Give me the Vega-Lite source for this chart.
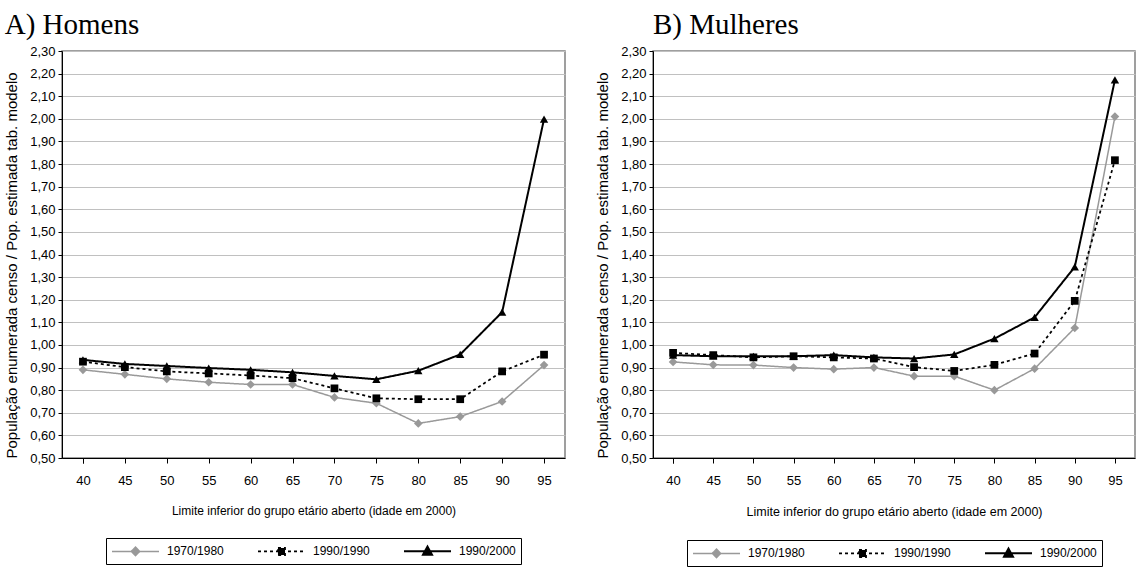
{
  "$schema": "https://vega.github.io/schema/vega-lite/v6.json",
  "background": "white",
  "padding": {"left": 3, "top": 10, "right": 0, "bottom": 0},
  "data": {
    "values": [
      {"panel": "H", "age": 40, "series": "1970/1980", "value": 0.89},
      {"panel": "H", "age": 45, "series": "1970/1980", "value": 0.87},
      {"panel": "H", "age": 50, "series": "1970/1980", "value": 0.85},
      {"panel": "H", "age": 55, "series": "1970/1980", "value": 0.835},
      {"panel": "H", "age": 60, "series": "1970/1980", "value": 0.825},
      {"panel": "H", "age": 65, "series": "1970/1980", "value": 0.825},
      {"panel": "H", "age": 70, "series": "1970/1980", "value": 0.768},
      {"panel": "H", "age": 75, "series": "1970/1980", "value": 0.742},
      {"panel": "H", "age": 80, "series": "1970/1980", "value": 0.653},
      {"panel": "H", "age": 85, "series": "1970/1980", "value": 0.683},
      {"panel": "H", "age": 90, "series": "1970/1980", "value": 0.75},
      {"panel": "H", "age": 95, "series": "1970/1980", "value": 0.911},
      {"panel": "H", "age": 40, "series": "1990/1990", "value": 0.926},
      {"panel": "H", "age": 45, "series": "1990/1990", "value": 0.902},
      {"panel": "H", "age": 50, "series": "1990/1990", "value": 0.883},
      {"panel": "H", "age": 55, "series": "1990/1990", "value": 0.874},
      {"panel": "H", "age": 60, "series": "1990/1990", "value": 0.865},
      {"panel": "H", "age": 65, "series": "1990/1990", "value": 0.853},
      {"panel": "H", "age": 70, "series": "1990/1990", "value": 0.808},
      {"panel": "H", "age": 75, "series": "1990/1990", "value": 0.764},
      {"panel": "H", "age": 80, "series": "1990/1990", "value": 0.76},
      {"panel": "H", "age": 85, "series": "1990/1990", "value": 0.76},
      {"panel": "H", "age": 90, "series": "1990/1990", "value": 0.883},
      {"panel": "H", "age": 95, "series": "1990/1990", "value": 0.957},
      {"panel": "H", "age": 40, "series": "1990/2000", "value": 0.934},
      {"panel": "H", "age": 45, "series": "1990/2000", "value": 0.916},
      {"panel": "H", "age": 50, "series": "1990/2000", "value": 0.907},
      {"panel": "H", "age": 55, "series": "1990/2000", "value": 0.898},
      {"panel": "H", "age": 60, "series": "1990/2000", "value": 0.89},
      {"panel": "H", "age": 65, "series": "1990/2000", "value": 0.879},
      {"panel": "H", "age": 70, "series": "1990/2000", "value": 0.863},
      {"panel": "H", "age": 75, "series": "1990/2000", "value": 0.848},
      {"panel": "H", "age": 80, "series": "1990/2000", "value": 0.886},
      {"panel": "H", "age": 85, "series": "1990/2000", "value": 0.958},
      {"panel": "H", "age": 90, "series": "1990/2000", "value": 1.145},
      {"panel": "H", "age": 95, "series": "1990/2000", "value": 1.999},
      {"panel": "M", "age": 40, "series": "1970/1980", "value": 0.925},
      {"panel": "M", "age": 45, "series": "1970/1980", "value": 0.912},
      {"panel": "M", "age": 50, "series": "1970/1980", "value": 0.911},
      {"panel": "M", "age": 55, "series": "1970/1980", "value": 0.9},
      {"panel": "M", "age": 60, "series": "1970/1980", "value": 0.893},
      {"panel": "M", "age": 65, "series": "1970/1980", "value": 0.9},
      {"panel": "M", "age": 70, "series": "1970/1980", "value": 0.862},
      {"panel": "M", "age": 75, "series": "1970/1980", "value": 0.862},
      {"panel": "M", "age": 80, "series": "1970/1980", "value": 0.8},
      {"panel": "M", "age": 85, "series": "1970/1980", "value": 0.895},
      {"panel": "M", "age": 90, "series": "1970/1980", "value": 1.075},
      {"panel": "M", "age": 95, "series": "1970/1980", "value": 2.01},
      {"panel": "M", "age": 40, "series": "1990/1990", "value": 0.965},
      {"panel": "M", "age": 45, "series": "1990/1990", "value": 0.955},
      {"panel": "M", "age": 50, "series": "1990/1990", "value": 0.945},
      {"panel": "M", "age": 55, "series": "1990/1990", "value": 0.95},
      {"panel": "M", "age": 60, "series": "1990/1990", "value": 0.945},
      {"panel": "M", "age": 65, "series": "1990/1990", "value": 0.94},
      {"panel": "M", "age": 70, "series": "1990/1990", "value": 0.902},
      {"panel": "M", "age": 75, "series": "1990/1990", "value": 0.885},
      {"panel": "M", "age": 80, "series": "1990/1990", "value": 0.912},
      {"panel": "M", "age": 85, "series": "1990/1990", "value": 0.962},
      {"panel": "M", "age": 90, "series": "1990/1990", "value": 1.195},
      {"panel": "M", "age": 95, "series": "1990/1990", "value": 1.817},
      {"panel": "M", "age": 40, "series": "1990/2000", "value": 0.955},
      {"panel": "M", "age": 45, "series": "1990/2000", "value": 0.95},
      {"panel": "M", "age": 50, "series": "1990/2000", "value": 0.95},
      {"panel": "M", "age": 55, "series": "1990/2000", "value": 0.95},
      {"panel": "M", "age": 60, "series": "1990/2000", "value": 0.955},
      {"panel": "M", "age": 65, "series": "1990/2000", "value": 0.945},
      {"panel": "M", "age": 70, "series": "1990/2000", "value": 0.94},
      {"panel": "M", "age": 75, "series": "1990/2000", "value": 0.958},
      {"panel": "M", "age": 80, "series": "1990/2000", "value": 1.028},
      {"panel": "M", "age": 85, "series": "1990/2000", "value": 1.122},
      {"panel": "M", "age": 90, "series": "1990/2000", "value": 1.345},
      {"panel": "M", "age": 95, "series": "1990/2000", "value": 2.172}
    ]
  },
  "spacing": 28,
  "hconcat": [
    {
      "title": {"text": "A) Homens", "anchor": "start", "frame": "bounds"},
      "width": 503,
      "height": 407,
      "transform": [{"filter": "datum.panel === 'H'"}],
      "encoding": {
        "x": {"field": "age", "type": "ordinal", "scale": {"paddingInner": 0, "paddingOuter": 0}, "axis": {"title": "Limite inferior do grupo etário aberto (idade em 2000)"}},
        "y": {"field": "value", "type": "quantitative", "scale": {"domain": [0.5, 2.3], "nice": false, "zero": false},
              "axis": {"values": [0.5,0.6,0.7,0.8,0.9,1.0,1.1,1.2,1.3,1.4,1.5,1.6,1.7,1.8,1.9,2.0,2.1,2.2,2.3], "labelExpr": "replace(format(datum.value, '.2f'), '.', ',')", "title": "População enumerada censo / Pop. estimada tab. modelo"}}
      },
      "layer": [
        {
          "mark": {"type": "line"},
          "encoding": {
            "color": {"field": "series", "type": "nominal", "scale": {"domain": ["1970/1980", "1990/1990", "1990/2000"], "range": ["#999999", "#000000", "#000000"]},
                      "legend": {"encode": {
                        "symbols": {"update": {
                          "y": {"value": 8},
                          "shape": {"signal": "datum.value === '1970/1980' ? 'M-1,0L1,0M0,-0.18L0.18,0L0,0.18L-0.18,0Z' : datum.value === '1990/1990' ? 'M-1,0L1,0M-0.15,-0.15L0.15,-0.15L0.15,0.15L-0.15,0.15Z' : 'M-1,0L1,0M0,-0.2L0.19,0.14L-0.19,0.14Z'"},
                          "fill": {"signal": "datum.value === '1970/1980' ? '#999999' : '#000000'"},
                          "fillOpacity": {"value": 1},
                          "strokeWidth": {"signal": "datum.value === '1990/1990' ? 2 : datum.value === '1970/1980' ? 1.5 : 1"}}},
                        "labels": {"update": {"y": {"value": 8}}}}}},
            "strokeDash": {"field": "series", "type": "nominal", "scale": {"domain": ["1970/1980", "1990/1990", "1990/2000"], "range": [[1, 0], [3, 3], [1, 0]]}},
            "strokeWidth": {"field": "series", "type": "nominal", "scale": {"domain": ["1970/1980", "1990/1990", "1990/2000"], "range": [1.5, 2, 1]}, "legend": null}
          }
        },
        {"transform": [{"filter": "datum.series === '1970/1980'"}], "mark": {"type": "point", "shape": "diamond", "filled": true, "opacity": 1, "size": 75, "color": "#999999"}},
        {"transform": [{"filter": "datum.series === '1990/1990'"}], "mark": {"type": "point", "shape": "square", "filled": true, "opacity": 1, "size": 60, "color": "#000000"}},
        {"transform": [{"filter": "datum.series === '1990/2000'"}], "mark": {"type": "point", "shape": "triangle-up", "filled": true, "opacity": 1, "size": 70, "color": "#000000"}}
      ]
    },
    {
      "title": {"text": "B) Mulheres", "anchor": "start", "frame": "group"},
      "width": 482,
      "height": 407,
      "transform": [{"filter": "datum.panel === 'M'"}],
      "encoding": {
        "x": {"field": "age", "type": "ordinal", "scale": {"paddingInner": 0, "paddingOuter": 0}, "axis": {"title": "Limite inferior do grupo etário aberto (idade em 2000)", "titleFontSize": 12.5}},
        "y": {"field": "value", "type": "quantitative", "scale": {"domain": [0.5, 2.3], "nice": false, "zero": false},
              "axis": {"values": [0.5,0.6,0.7,0.8,0.9,1.0,1.1,1.2,1.3,1.4,1.5,1.6,1.7,1.8,1.9,2.0,2.1,2.2,2.3], "labelExpr": "replace(format(datum.value, '.2f'), '.', ',')", "title": "População enumerada censo / Pop. estimada tab. modelo"}}
      },
      "layer": [
        {
          "mark": {"type": "line"},
          "encoding": {
            "color": {"field": "series", "type": "nominal", "scale": {"domain": ["1970/1980", "1990/1990", "1990/2000"], "range": ["#999999", "#000000", "#000000"]},
                      "legend": {"encode": {
                        "symbols": {"update": {
                          "y": {"value": 8},
                          "shape": {"signal": "datum.value === '1970/1980' ? 'M-1,0L1,0M0,-0.18L0.18,0L0,0.18L-0.18,0Z' : datum.value === '1990/1990' ? 'M-1,0L1,0M-0.15,-0.15L0.15,-0.15L0.15,0.15L-0.15,0.15Z' : 'M-1,0L1,0M0,-0.2L0.19,0.14L-0.19,0.14Z'"},
                          "fill": {"signal": "datum.value === '1970/1980' ? '#999999' : '#000000'"},
                          "fillOpacity": {"value": 1},
                          "strokeWidth": {"signal": "datum.value === '1990/1990' ? 2 : datum.value === '1970/1980' ? 1.5 : 1"}}},
                        "labels": {"update": {"y": {"value": 8}}}}}},
            "strokeDash": {"field": "series", "type": "nominal", "scale": {"domain": ["1970/1980", "1990/1990", "1990/2000"], "range": [[1, 0], [3, 3], [1, 0]]}},
            "strokeWidth": {"field": "series", "type": "nominal", "scale": {"domain": ["1970/1980", "1990/1990", "1990/2000"], "range": [1.5, 2, 1]}, "legend": null}
          }
        },
        {"transform": [{"filter": "datum.series === '1970/1980'"}], "mark": {"type": "point", "shape": "diamond", "filled": true, "opacity": 1, "size": 75, "color": "#999999"}},
        {"transform": [{"filter": "datum.series === '1990/1990'"}], "mark": {"type": "point", "shape": "square", "filled": true, "opacity": 1, "size": 60, "color": "#000000"}},
        {"transform": [{"filter": "datum.series === '1990/2000'"}], "mark": {"type": "point", "shape": "triangle-up", "filled": true, "opacity": 1, "size": 70, "color": "#000000"}}
      ]
    }
  ],
  "resolve": {
    "scale": {"color": "independent", "strokeDash": "independent", "strokeWidth": "independent", "x": "independent", "y": "independent"},
    "legend": {"color": "independent", "strokeDash": "independent"}
  },
  "config": {
    "font": "Liberation Sans",
    "view": {"stroke": "#808080", "strokeWidth": 1.5},
    "title": {"font": "Liberation Serif", "fontSize": 29, "fontWeight": "normal", "color": "#000000", "baseline": "alphabetic", "offset": 5},
    "axis": {"labelFont": "Liberation Sans", "labelFontSize": 13, "labelColor": "#000000", "titleFont": "Liberation Sans", "titleFontWeight": "normal", "titleColor": "#000000", "domainColor": "#000000", "tickColor": "#000000", "gridColor": "#c0c0c0"},
    "axisX": {"grid": false, "labelAngle": 0, "tickBand": "extent", "tickSize": 5, "labelPadding": 11, "titleFontSize": 12, "titlePadding": 18},
    "axisY": {"tickSize": 4, "labelPadding": 3, "titleFontSize": 15, "titlePadding": 10, "titleAnchor": "start"},
    "legend": {"orient": "bottom", "direction": "horizontal", "title": null, "strokeColor": "#000000", "padding": 5, "labelFont": "Liberation Sans", "labelFontSize": 12, "labelColor": "#000000", "symbolSize": 2209, "labelOffset": 7, "columnPadding": 30, "offset": 22, "layout": {"bottom": {"anchor": "middle"}}}
  }
}
